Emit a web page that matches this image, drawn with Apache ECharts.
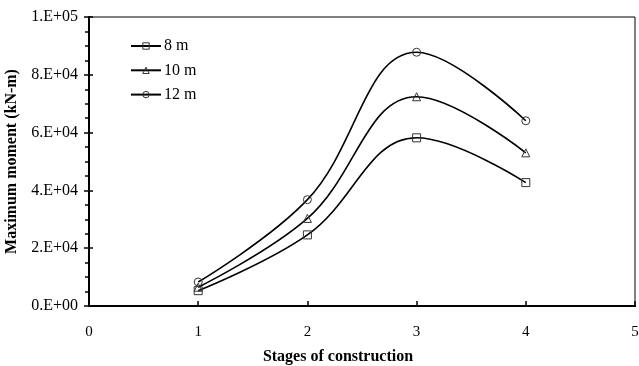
<!DOCTYPE html>
<html>
<head>
<meta charset="utf-8">
<script src="https://cdn.jsdelivr.net/npm/echarts@6/dist/echarts.min.js"></script>
<style>
  html, body { margin: 0; padding: 0; background: #fff; }
  #myChart { width: 639px; height: 366px; }
</style>
</head>
<body>
<div id="myChart"></div>
<script>
// stages on the x axis
var stages = [1, 2, 3, 4];
// maximum moment (kN-m) for each excavation depth
var m8 = [5300, 24600, 58200, 42700];
var m10 = [6500, 30300, 72400, 53000];
var m12 = [8300, 36800, 87800, 64100];
var seriesNames = ['8 m', '10 m', '12 m'];

function pairs(ys) {
  return stages.map(function (x, i) { return [x, ys[i]]; });
}

function sci(v) {
  if (v === 0) return '0.E+00';
  var e = Math.floor(Math.log10(v));
  var m = Math.round(v / Math.pow(10, e));
  return m + '.E+' + (e < 10 ? '0' + e : e);
}

var font = 'Liberation Serif';
var myChart = echarts.init(document.getElementById('myChart'));

function line(name, data, symbol) {
  return {
    name: name,
    type: 'line',
    data: pairs(data),
    smooth: 0.4,
    symbol: symbol,
    symbolSize: 8,
    showAllSymbol: true,
    lineStyle: { color: '#000', width: 1.6 },
    itemStyle: { color: 'rgba(0,0,0,0)', borderColor: '#333', borderWidth: 1 },
    z: 3
  };
}

var option = {
  backgroundColor: '#fff',
  animation: false,
  textStyle: { fontFamily: font },
  grid: {
    left: 89, right: 4, top: 17, bottom: 60,
    outerBoundsMode: 'none',
    show: true, borderColor: '#000', borderWidth: 1
  },
  legend: {
    orient: 'vertical',
    left: 130, top: 38, padding: 0,
    itemWidth: 30, itemHeight: 8, itemGap: 8.3,
    itemStyle: { color: 'rgba(0,0,0,0)', borderColor: '#333', borderWidth: 1 },
    lineStyle: { color: '#000', width: 2 },
    textStyle: { fontFamily: font, fontSize: 16, color: '#000', padding: [0, 0, 0, -2] },
    data: seriesNames
  },
  xAxis: [{
    type: 'value', min: 0, max: 5, interval: 1,
    name: 'Stages of construction',
    nameLocation: 'middle', nameGap: 43,
    nameTextStyle: { fontFamily: font, fontWeight: 'bold', fontSize: 16, color: '#000', padding: [0, 48, 0, 0] },
    axisLine: { lineStyle: { color: '#000', width: 2 } },
    axisTick: { inside: true, length: 5, lineStyle: { color: '#000', width: 1.5 } },
    axisLabel: { fontFamily: font, fontSize: 15, color: '#000', margin: 19 },
    splitLine: { show: false }
  }, {
    type: 'value', min: 0, max: 5, position: 'top',
    axisLine: { show: true, lineStyle: { color: '#000', width: 2 } },
    axisTick: { show: false }, axisLabel: { show: false }, splitLine: { show: false }
  }],
  yAxis: [{
    type: 'value', min: 0, max: 100000, interval: 20000,
    name: 'Maximum moment (kN-m)',
    nameLocation: 'middle', nameGap: 62,
    nameTextStyle: { fontFamily: font, fontWeight: 'bold', fontSize: 16, color: '#000' },
    axisLine: { show: true, lineStyle: { color: '#000', width: 2 } },
    axisTick: { length: 5, lineStyle: { color: '#000', width: 1.5 } },
    minorTick: { show: true, splitNumber: 4, length: 4, lineStyle: { color: '#000', width: 1.5 } },
    axisLabel: { fontFamily: font, fontSize: 16, color: '#000', margin: 11, formatter: sci },
    splitLine: { show: false }
  }, {
    // inner half of the major ticks
    type: 'value', min: 0, max: 100000, interval: 20000, position: 'left',
    axisLine: { show: false },
    axisTick: { show: true, inside: true, length: 4, lineStyle: { color: '#000', width: 1.5 } },
    axisLabel: { show: false }, splitLine: { show: false }
  }],
  series: [
    line(seriesNames[0], m8, 'rect'),
    line(seriesNames[1], m10, 'triangle'),
    line(seriesNames[2], m12, 'circle')
  ]
};
myChart.setOption(option);
</script>
</body>
</html>
